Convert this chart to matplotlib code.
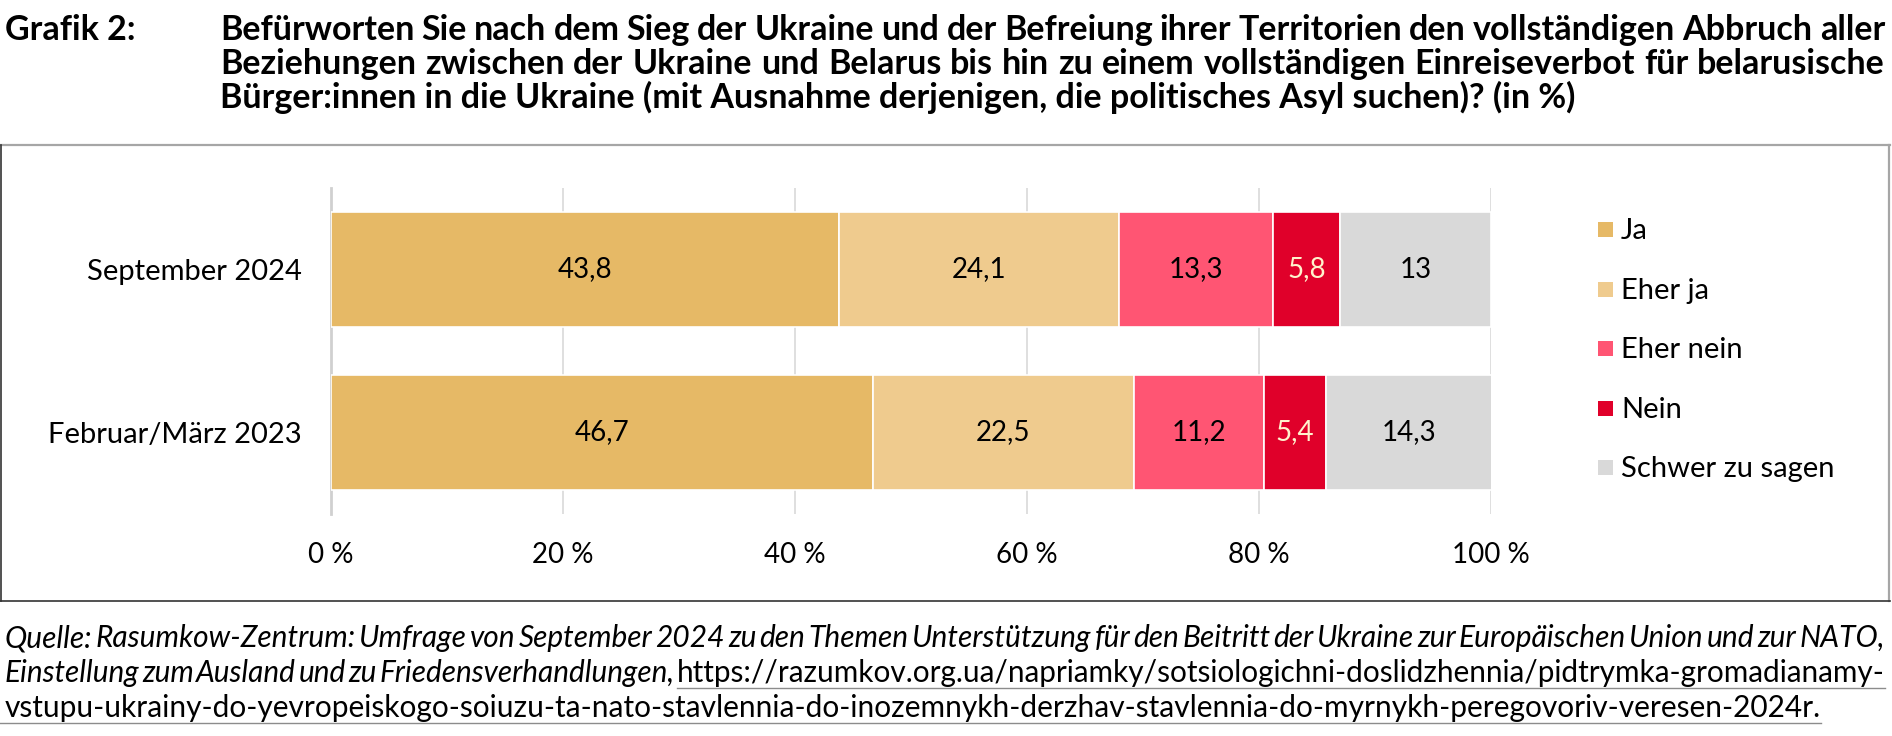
import matplotlib
matplotlib.use('Agg')
import matplotlib.pyplot as plt
from matplotlib.lines import Line2D
from matplotlib.patches import Rectangle

plt.rcParams['font.family'] = ['Lato', 'DejaVu Sans']

# ---------------- data ----------------
categories = ['September 2024', 'Februar/März 2023']
series_names = ['Ja', 'Eher ja', 'Eher nein', 'Nein', 'Schwer zu sagen']
ja = [43.8, 46.7]
eher_ja = [24.1, 22.5]
eher_nein = [13.3, 11.2]
nein = [5.8, 5.4]
schwer = [13, 14.3]
x_ticks = [0, 20, 40, 60, 80, 100]
x_tick_labels = ['0 %', '20 %', '40 %', '60 %', '80 %', '100 %']

title_label = 'Grafik 2:'
title_lines = [
    'Befürworten Sie nach dem Sieg der Ukraine und der Befreiung ihrer Territorien den vollständigen Abbruch aller',
    'Beziehungen zwischen der Ukraine und Belarus bis hin zu einem vollständigen Einreiseverbot für belarusische',
    'Bürger:innen in die Ukraine (mit Ausnahme derjenigen, die politisches Asyl suchen)? (in %)',
]
source_line1 = ('Quelle: Rasumkow-Zentrum: Umfrage von September 2024 zu den Themen Unterstützung '
                'für den Beitritt der Ukraine zur Europäischen Union und zur NATO,')
source_line2_italic = 'Einstellung zum Ausland und zu Friedensverhandlungen,'
source_url1 = 'https://razumkov.org.ua/napriamky/sotsiologichni-doslidzhennia/pidtrymka-gromadianamy-'
source_url2 = ('vstupu-ukrainy-do-yevropeiskogo-soiuzu-ta-nato-stavlennia-do-inozemnykh-derzhav-'
               'stavlennia-do-myrnykh-peregovoriv-veresen-2024r.')

series = [ja, eher_ja, eher_nein, nein, schwer]
colors = ['#E6B966', '#EFCB8E', '#FF5573', '#E0002A', '#D9D9D9']
label_colors = ['black', 'black', 'black', '#FFF2CC', 'black']

# ---------------- figure ----------------
W, H = 1892, 736
fig = plt.figure(figsize=(W / 100, H / 100), dpi=100)
fig.patch.set_facecolor('white')


def fx(x):
    return x / W


def fy(y):
    return 1 - y / H


ax = fig.add_axes([fx(331), fy(514), 1160 / W, 326 / H])
ypos = list(range(len(categories)))
left = [0.0] * len(categories)
for vals, name, col, lc in zip(series, series_names, colors, label_colors):
    bars = ax.barh(ypos, vals, left=left, height=0.705, color=col,
                   edgecolor='white', linewidth=1.2, label=name, zorder=3)
    labels = [f'{v:g}'.replace('.', ',') for v in vals]
    ax.bar_label(bars, labels=labels, label_type='center', color=lc,
                 fontsize=20, zorder=4)
    left = [l + v for l, v in zip(left, vals)]

ax.set_xlim(0, 100)
ax.set_ylim(len(categories) - 0.5, -0.5)
ax.set_yticks(ypos)
ax.set_yticklabels(categories, fontsize=21)
ax.set_xticks(x_ticks)
ax.set_xticklabels(x_tick_labels, fontsize=20)
ax.tick_params(axis='both', length=0)
ax.tick_params(axis='x', pad=20)
ax.tick_params(axis='y', pad=21)
ax.grid(axis='x', color='#D9D9D9', linewidth=1.2, zorder=0)
ax.set_axisbelow(True)
for s in ['top', 'right', 'bottom']:
    ax.spines[s].set_visible(False)
ax.spines['left'].set_color('#D0D0D0')
ax.spines['left'].set_linewidth(2)
ax.spines['left'].set_zorder(2)

# ---------------- legend (manual) ----------------
leg_baselines = [239, 299, 358, 418, 477]
for name, col, yb in zip(series_names, colors, leg_baselines):
    fig.add_artist(Rectangle((fx(1598), fy(yb - 2)), 15 / W, 15 / H,
                             transform=fig.transFigure, facecolor=col,
                             edgecolor='none'))
    fig.text(fx(1621), fy(yb), name, fontsize=21, va='baseline', ha='left')

# ---------------- frame ----------------
fig.add_artist(Line2D([fx(0), fx(1890)], [fy(145), fy(145)], color='#A6A6A6', lw=1.6,
                      transform=fig.transFigure))
fig.add_artist(Line2D([fx(1889), fx(1889)], [fy(145), fy(601)], color='#A6A6A6', lw=1.6,
                      transform=fig.transFigure))
fig.add_artist(Line2D([fx(0.8), fx(0.8)], [fy(145), fy(601)], color='#333333', lw=1.2,
                      transform=fig.transFigure))
fig.add_artist(Line2D([fx(0), fx(1890)], [fy(601), fy(601)], color='#333333', lw=1.2,
                      transform=fig.transFigure))

# ---------------- text helpers ----------------
renderer = fig.canvas.get_renderer()


def width_of(s, **kw):
    t = fig.text(0, 0, s, **kw)
    w = t.get_window_extent(renderer).width
    t.remove()
    return w


def place_line(words, y, x0, x1, size, justify=True, min_gap_em=0.12):
    """words: list of (text, style, underline)"""
    while True:
        px = size * 100 / 72
        ws = [width_of(w, fontsize=size, **st) for w, st, _ in words]
        total = sum(ws)
        if justify and len(words) > 1:
            gap = (x1 - x0 - total) / (len(words) - 1)
            if gap < min_gap_em * px:
                size *= 0.995
                continue
        else:
            gap = 0.2 * px
        break
    x = x0
    for (w, st, ul), wd in zip(words, ws):
        fig.text(fx(x), fy(y), w, fontsize=size, va='baseline', ha='left', **st)
        if ul:
            fig.add_artist(Line2D([fx(x), fx(x + wd)], [fy(y + 6), fy(y + 6)],
                                  color='#8C8C8C', lw=1.0, transform=fig.transFigure))
        x += wd + gap
    return size


bold = {'fontweight': 'bold'}
ital = {'fontstyle': 'italic'}
reg = {}

# title
TS = 24.5
tb = [40, 74, 108]
fig.text(fx(5), fy(tb[0]), title_label, fontsize=TS, fontweight='bold', va='baseline')
sz = TS
for i, line in enumerate(title_lines):
    words = [(w, bold, False) for w in line.split(' ')]
    if i < 2:
        sz = place_line(words, tb[i], 220, 1885, sz, justify=True, min_gap_em=0.15)
    else:
        fig.text(fx(220), fy(tb[i]), line, fontsize=sz, fontweight='bold', va='baseline')

# source
SS = 21.5
words1 = [(w, ital, False) for w in source_line1.split(' ')]
s1 = place_line(words1, 647, 5, 1885, SS, justify=True, min_gap_em=0.06)
words2 = [(w, ital, False) for w in source_line2_italic.split(' ')] + [(source_url1, reg, True)]
place_line(words2, 682, 5, 1885, SS, justify=True, min_gap_em=0.06)
t3 = fig.text(fx(5), fy(717), source_url2, fontsize=SS, va='baseline', ha='left')
w3 = t3.get_window_extent(renderer).width
fig.add_artist(Line2D([fx(0), fx(5 + w3)], [fy(723), fy(723)], color='#8C8C8C', lw=1.0,
                      transform=fig.transFigure))

fig.savefig('out.png', dpi=100, facecolor='white')
